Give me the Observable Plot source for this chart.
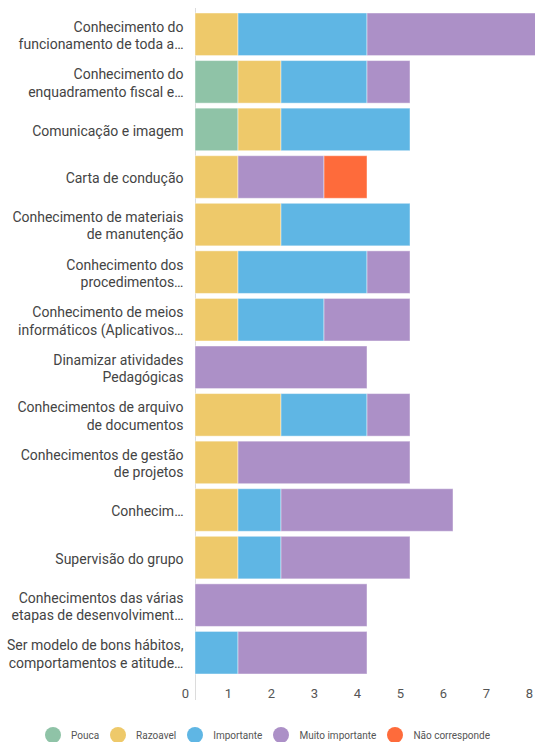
<!DOCTYPE html>
<html>
<head>
<meta charset="utf-8">
<script src="https://cdn.jsdelivr.net/npm/d3@7"></script>
<script src="https://cdn.jsdelivr.net/npm/@observablehq/plot@0.6"></script>
<style>
  html, body { margin: 0; padding: 0; background: #fff; }
  body { width: 535px; height: 742px; overflow: hidden; font-family: Roboto, "Noto Sans", sans-serif; }
  #legend { display: flex; justify-content: center; align-items: center; margin-top: 22px; height: 16px; font-size: 10px; color: #555; }
  #legend .item { display: flex; align-items: center; margin: 0 5.5px; }
  #legend .dot { width: 16px; height: 16px; border-radius: 50%; margin-right: 10px; }
</style>
</head>
<body>
<div id="chart"></div>
<div id="legend"></div>
<script>
const categories = [
  "Conhecimento do\nfuncionamento de toda a…",
  "Conhecimento do\nenquadramento fiscal e…",
  "Comunicação e imagem",
  "Carta de condução",
  "Conhecimento de materiais\nde manutenção",
  "Conhecimento dos\nprocedimentos…",
  "Conhecimento de meios\ninformáticos (Aplicativos…",
  "Dinamizar atividades\nPedagógicas",
  "Conhecimentos de arquivo\nde documentos",
  "Conhecimentos de gestão\nde projetos",
  "Conhecim…",
  "Supervisão do grupo",
  "Conhecimentos das várias\netapas de desenvolviment…",
  "Ser modelo de bons hábitos,\ncomportamentos e atitude…"
];
const levels = ["Pouca", "Razoavel", "Importante", "Muito importante", "Não corresponde"];
const colors = ["#8fc3a7", "#eec96a", "#5fb6e4", "#ac90c7", "#fe6b3b"];

const pouca          = [0, 1, 1, 0, 0, 0, 0, 0, 0, 0, 0, 0, 0, 0];
const razoavel       = [1, 1, 1, 1, 2, 1, 1, 0, 2, 1, 1, 1, 0, 0];
const importante     = [3, 2, 3, 0, 3, 3, 2, 0, 2, 0, 1, 1, 0, 1];
const muitoImportante= [4, 1, 0, 2, 0, 1, 2, 4, 1, 4, 4, 3, 4, 3];
const naoCorresponde = [0, 0, 0, 1, 0, 0, 0, 0, 0, 0, 0, 0, 0, 0];
const xTicks = [0, 1, 2, 3, 4, 5, 6, 7, 8];

const series = [pouca, razoavel, importante, muitoImportante, naoCorresponde];
const rows = [];
categories.forEach((c, i) => {
  levels.forEach((l, j) => {
    if (series[j][i] > 0) rows.push({category: c, level: l, value: series[j][i]});
  });
});

const chart = Plot.plot({
  width: 535,
  height: 705,
  marginLeft: 195,
  marginRight: -4,
  marginTop: 8,
  marginBottom: 26,
  style: {fontFamily: "Roboto, 'Noto Sans', sans-serif", overflow: "hidden"},
  x: {domain: [0, 8], axis: null},
  y: {domain: categories, padding: 0.105, round: false, axis: null},
  color: {domain: levels, range: colors},
  marks: [
    Plot.ruleX([0], {stroke: "#dcdcdc", strokeWidth: 1, insetBottom: -21}),
    Plot.barX(rows, Plot.stackX({
      x: "value", y: "category", fill: "level", order: levels,
      stroke: "white", strokeOpacity: 0.45, strokeWidth: 1
    })),
    Plot.text(categories, {
      x: 0, y: d => d, text: d => d, textAnchor: "end", dx: -12,
      fontSize: 14, fill: "#444", lineHeight: 1.25
    }),
    Plot.axisX({
      ticks: xTicks, tickSize: 0, tickPadding: 0, dx: -10, dy: 9,
      fontSize: 13, color: "#555", label: null, tickFormat: d => String(d)
    })
  ]
});
document.getElementById("chart").appendChild(chart);

const legend = document.getElementById("legend");
levels.forEach((l, i) => {
  const item = document.createElement("div");
  item.className = "item";
  const dot = document.createElement("span");
  dot.className = "dot";
  dot.style.background = colors[i];
  const txt = document.createElement("span");
  txt.textContent = l;
  item.appendChild(dot);
  item.appendChild(txt);
  legend.appendChild(item);
});
</script>
</body>
</html>
